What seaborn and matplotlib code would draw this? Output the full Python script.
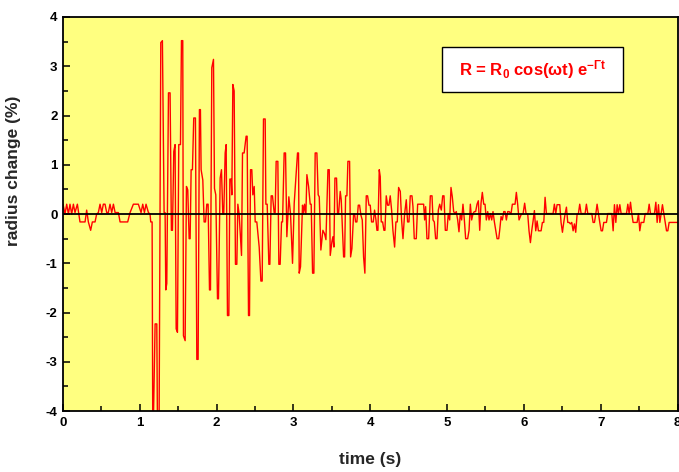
import numpy as np
import pandas as pd
import matplotlib
matplotlib.use("Agg")
import matplotlib.pyplot as plt
import seaborn as sns
from matplotlib.patches import Rectangle
from matplotlib.ticker import MultipleLocator

# -----------------------------
# Data (time in s, radius change in %)
# -----------------------------
# quiet part before the impulse
t_quiet = [0.0, 0.026, 0.048, 0.07, 0.091, 0.113, 0.135, 0.156, 0.187, 0.221,
           0.287, 0.308, 0.33, 0.36, 0.382, 0.417, 0.438, 0.46, 0.482, 0.504,
           0.525, 0.547, 0.569, 0.59, 0.612, 0.634, 0.656, 0.678, 0.721, 0.743,
           0.842, 0.873, 0.916, 0.981, 1.016, 1.038, 1.06, 1.081, 1.112, 1.133]
r_quiet = [0.2, 0.0, 0.2, 0.0, 0.2, 0.0, 0.2, 0.03, 0.2, -0.16,
           -0.16, 0.08, -0.16, -0.33, -0.16, -0.16, 0.0, 0.03, 0.2, 0.03,
           0.2, 0.2, 0.03, 0.03, 0.2, 0.03, 0.2, 0.03, 0.03, -0.16,
           -0.16, 0.03, 0.2, 0.2, 0.03, 0.2, 0.03, 0.2, 0.03, 0.0]

# impulse and strongest oscillation
t_kick = [1.142, 1.16, 1.168, 1.177, 1.199, 1.221, 1.229, 1.251, 1.273, 1.294,
          1.316, 1.329, 1.338, 1.351, 1.373, 1.394, 1.411, 1.425, 1.442, 1.459,
          1.473, 1.49, 1.507, 1.529, 1.542, 1.559, 1.568, 1.59, 1.607, 1.624,
          1.642, 1.655, 1.668, 1.685, 1.702, 1.724, 1.742, 1.759, 1.776, 1.789]
r_kick = [-0.16, -0.16, -4.2, -4.2, -2.23, -2.23, -4.2, -4.2, 3.48, 3.52,
          0.03, 0.03, -1.54, -1.41, 2.46, 2.46, -0.33, -0.33, 1.27, 1.41,
          -2.33, -2.4, 1.41, 1.41, 3.52, 3.52, -2.47, -2.57, 0.56, 0.49,
          -0.5, -0.5, 0.9, 0.9, 1.95, 1.95, -2.95, -2.95, 2.12, 2.12]

t_ring1 = [1.798, 1.82, 1.837, 1.855, 1.872, 1.889, 1.907, 1.92, 1.937, 1.959,
           1.972, 1.989, 2.011, 2.024, 2.046, 2.063, 2.08, 2.093, 2.111, 2.124,
           2.141, 2.159, 2.172, 2.189, 2.198, 2.211, 2.228, 2.245, 2.263, 2.276,
           2.293, 2.324, 2.337, 2.358, 2.384, 2.397, 2.415, 2.428, 2.441, 2.458,
           2.471, 2.489, 2.502, 2.523, 2.554, 2.576, 2.593, 2.61, 2.632]
r_ring1 = [0.9, 0.69, -0.16, -0.16, 0.2, 0.2, -1.54, -1.54, 2.97, 3.14,
           0.52, 0.39, -1.72, -1.72, 0.73, 0.9, 0.0, 0.0, 1.24, 1.41,
           -2.06, -2.06, 0.71, 0.71, 0.39, 2.63, 2.5, -1.02, -1.02, 0.2,
           0.0, -0.84, 1.24, 1.24, 1.58, 1.58, -2.06, -2.06, 0.9, 0.9,
           0.39, 0.56, -0.16, -0.16, -0.67, -1.36, -1.36, 1.93, 1.93]

t_ring2 = [2.641, 2.658, 2.68, 2.693, 2.71, 2.727, 2.749, 2.762, 2.775, 2.797,
           2.81, 2.827, 2.845, 2.858, 2.879, 2.897, 2.914, 2.94, 2.962, 2.988,
           3.01, 3.032, 3.053, 3.066, 3.075, 3.092, 3.118, 3.131, 3.144, 3.162,
           3.175, 3.197, 3.218, 3.231, 3.249, 3.266, 3.283, 3.305, 3.322, 3.336,
           3.357, 3.383, 3.405, 3.423, 3.449, 3.466, 3.479]
r_ring2 = [0.2, 0.2, -1.02, -1.02, 0.37, 0.37, 0.03, 0.03, 1.07, 1.07,
           -1.02, -1.02, -0.16, -0.16, 1.24, 1.24, -0.46, 0.35, 0.0, -1.0,
           0.22, 0.73, 1.24, 1.24, -1.2, -1.07, 0.18, 0.0, 0.2, 0.0,
           0.8, 0.56, 0.2, 0.2, -1.2, -1.2, 1.24, 1.24, 0.39, 0.35,
           -0.73, -0.33, -0.4, -0.52, 0.9, 0.9, -0.84]

t_ring3 = [3.501, 3.514, 3.527, 3.54, 3.561, 3.574, 3.587, 3.609, 3.622, 3.64,
           3.653, 3.666, 3.679, 3.696, 3.709, 3.731, 3.744, 3.761, 3.783, 3.796,
           3.809, 3.826, 3.844, 3.861, 3.878, 3.896, 3.913, 3.93, 3.948, 3.965,
           3.983, 4.0, 4.017, 4.039, 4.056, 4.074, 4.087, 4.1, 4.117, 4.13,
           4.143, 4.161, 4.178, 4.191, 4.208, 4.226, 4.243, 4.26, 4.278, 4.295,
           4.317, 4.334, 4.352, 4.369, 4.391, 4.408, 4.426, 4.447, 4.469, 4.486,
           4.504, 4.521]
r_ring3 = [-0.56, -0.46, -0.67, 0.73, 0.73, 0.0, 0.0, 0.46, 0.29, -0.4,
           -0.87, -0.87, 0.37, 0.37, 1.07, 1.07, -0.87, -0.7, 0.0, 0.0,
           -0.16, -0.16, 0.18, 0.18, -0.02, -0.12, -0.87, -1.2, 0.37, 0.37,
           0.18, 0.18, -0.16, -0.16, 0.08, -0.12, -0.33, -0.33, 0.9, 0.76,
           -0.16, -0.16, -0.33, -0.33, 0.37, 0.18, 0.18, 0.37, 0.08, -0.33,
           -0.67, -0.16, -0.16, 0.54, 0.46, -0.12, -0.5, 0.0, 0.29, -0.16,
           -0.16, 0.37]

# small leftover noise
t_tail1 = [4.543, 4.556, 4.573, 4.599, 4.617, 4.695, 4.708, 4.721, 4.738, 4.76,
           4.782, 4.804, 4.817, 4.834, 4.851, 4.869, 4.886, 4.904, 4.925, 4.943,
           4.96, 4.977, 4.999, 5.016, 5.034, 5.051, 5.068, 5.086, 5.103, 5.12,
           5.138, 5.155, 5.172, 5.19, 5.207, 5.225, 5.242, 5.268, 5.286, 5.303,
           5.32, 5.338, 5.355, 5.372, 5.39, 5.407, 5.425, 5.442, 5.459, 5.477,
           5.494, 5.511, 5.529, 5.546, 5.564, 5.581, 5.598, 5.616, 5.633, 5.651,
           5.672, 5.685, 5.703, 5.72, 5.738, 5.755, 5.772, 5.79, 5.807, 5.833,
           5.85, 5.885, 5.902, 5.919, 5.937]
r_tail1 = [0.37, 0.15, -0.5, -0.5, 0.2, 0.2, -0.12, 0.15, -0.5, -0.5,
           0.37, 0.37, -0.12, -0.16, -0.5, -0.5, 0.08, 0.2, 0.08, 0.37,
           0.37, -0.33, -0.33, 0.01, -0.12, 0.54, 0.35, 0.05, 0.01, 0.05,
           -0.12, -0.36, 0.01, -0.12, 0.2, -0.12, -0.5, -0.5, -0.33, 0.2,
           -0.12, 0.01, 0.05, 0.05, 0.2, 0.27, -0.33, 0.22, 0.44, 0.2,
           0.2, -0.12, 0.05, -0.12, 0.01, -0.12, 0.05, -0.16, -0.33, -0.5,
           -0.5, -0.33, -0.05, -0.12, 0.05, 0.05, -0.12, 0.05, 0.05, 0.01,
           0.2, 0.2, 0.44, 0.2, -0.12]

t_tail2 = [5.967, 5.989, 6.01, 6.028, 6.05, 6.067, 6.085, 6.102, 6.12, 6.137,
           6.154, 6.172, 6.189, 6.224, 6.241, 6.259, 6.276, 6.293, 6.38, 6.397,
           6.415, 6.432, 6.467, 6.484, 6.502, 6.519, 6.536, 6.554, 6.571, 6.589,
           6.606, 6.623, 6.641, 6.658, 6.675, 6.693, 6.71, 6.727, 6.745, 6.797,
           6.814, 6.832, 6.884, 6.901, 6.919, 6.936, 6.953, 6.971, 6.988, 7.006,
           7.023, 7.04, 7.075, 7.092, 7.145, 7.162, 7.179, 7.197, 7.214, 7.231,
           7.249, 7.266, 7.336, 7.353, 7.37, 7.388, 7.405, 7.422, 7.474, 7.492,
           7.509, 7.526, 7.561, 7.579, 7.614, 7.631, 7.648, 7.7, 7.718, 7.735,
           7.752, 7.77, 7.787, 7.804, 7.822, 7.839, 7.857, 7.874, 7.891, 8.0]
r_tail2 = [0.0, 0.0, 0.22, 0.01, 0.0, -0.34, -0.58, -0.34, -0.14, 0.07,
           -0.34, -0.14, -0.34, -0.34, -0.17, -0.17, 0.34, 0.01, 0.01, 0.2,
           0.01, 0.19, 0.19, -0.17, -0.37, -0.17, 0.0, 0.14, -0.17, -0.17,
           -0.2, -0.17, -0.34, -0.2, -0.37, 0.0, 0.01, 0.2, 0.01, 0.01,
           0.2, 0.01, 0.01, -0.17, -0.17, 0.0, 0.2, 0.01, -0.17, -0.34,
           -0.34, -0.17, -0.17, 0.01, 0.01, -0.34, 0.19, -0.17, 0.19, 0.01,
           0.19, 0.01, 0.01, 0.2, 0.01, 0.24, 0.01, -0.17, -0.17, 0.01,
           -0.34, -0.17, -0.17, 0.01, 0.01, 0.2, 0.01, 0.01, 0.24, -0.17,
           0.19, -0.17, 0.01, 0.19, 0.01, -0.17, -0.34, -0.34, -0.17, -0.17]

formula = "R = R$_{0}$ cos(ωt) e$^{-Γt}$"

# -----------------------------
# Build one table
# -----------------------------
t_all, r_all = [], []
for tt, rr in [(t_quiet, r_quiet), (t_kick, r_kick), (t_ring1, r_ring1),
               (t_ring2, r_ring2), (t_ring3, r_ring3), (t_tail1, r_tail1),
               (t_tail2, r_tail2)]:
    assert len(tt) == len(rr), (len(tt), len(rr))
    t_all += tt
    r_all += rr
df = pd.DataFrame({"time": t_all, "radius": r_all})

# -----------------------------
# Style
# -----------------------------
sns.set_style("ticks")
plt.rcParams["font.family"] = ["Liberation Sans", "DejaVu Sans"]
plt.rcParams["font.weight"] = "bold"
plt.rcParams["axes.unicode_minus"] = False
plt.rcParams["mathtext.fontset"] = "custom"
plt.rcParams["mathtext.rm"] = "Liberation Sans:bold"
plt.rcParams["mathtext.it"] = "Liberation Sans:bold"
plt.rcParams["mathtext.bf"] = "Liberation Sans:bold"

fig = plt.figure(figsize=(6.79, 4.72), dpi=100)
ax = fig.add_axes([0.0928, 0.129, 0.905, 0.835])
ax.set_facecolor("#ffff80")

sns.lineplot(data=df, x="time", y="radius", ax=ax, color="red",
             linewidth=1.0, estimator=None, sort=False, zorder=2)
ax.axhline(0, color="black", linewidth=1.3, zorder=3)

ax.set_xlim(0, 8)
ax.set_ylim(-4, 4)
ax.xaxis.set_major_locator(MultipleLocator(1))
ax.xaxis.set_minor_locator(MultipleLocator(0.5))
ax.yaxis.set_major_locator(MultipleLocator(1))
ax.yaxis.set_minor_locator(MultipleLocator(0.5))
ax.tick_params(which="both", direction="in", top=False, right=False,
               width=1.1, colors="black")
ax.tick_params(which="major", length=5, labelsize=9.5, pad=4)
ax.tick_params(which="minor", length=3.5)
for lab in ax.get_xticklabels() + ax.get_yticklabels():
    lab.set_fontweight("bold")
for sp in ax.spines.values():
    sp.set_visible(True)
    sp.set_linewidth(1.3)
    sp.set_color("black")

ax.set_xlabel("time (s)", fontsize=12.5, fontweight="bold", labelpad=17)
ax.set_ylabel("radius change (%)", fontsize=12.5, fontweight="bold")
ax.yaxis.set_label_coords(-0.068, 0.61)

# formula box
ax.add_patch(Rectangle((0.617, 0.81), 0.295, 0.114, transform=ax.transAxes,
                       facecolor="white", edgecolor="black", linewidth=1.0,
                       zorder=4))
ax.text(0.7645, 0.867, formula, transform=ax.transAxes, ha="center",
        va="center", color="red", fontsize=12, fontweight="bold", zorder=5)

fig.savefig("out.png", dpi=100)
